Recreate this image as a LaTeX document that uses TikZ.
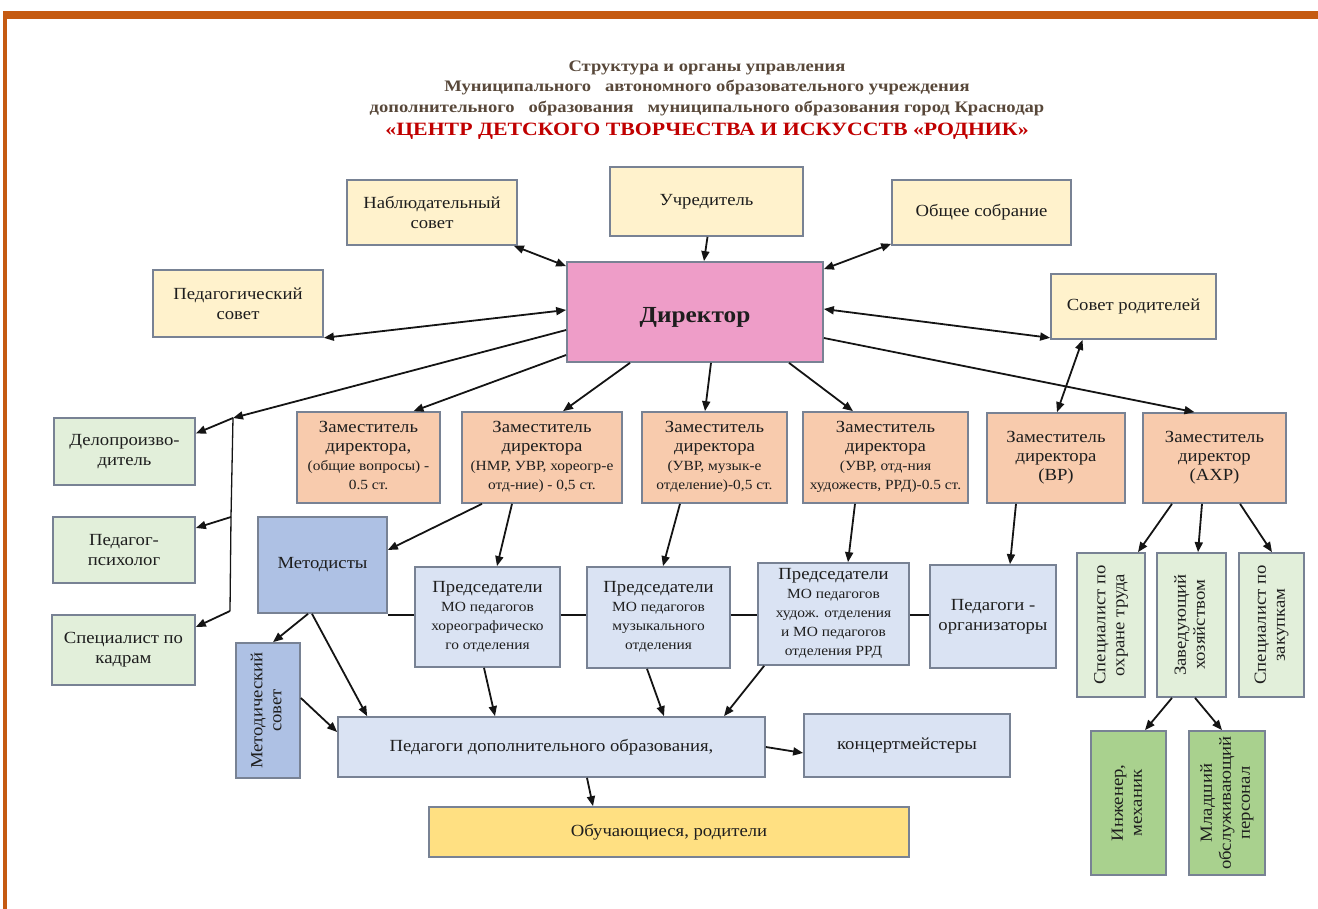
\documentclass[tikz,border=0pt]{standalone}
\usepackage{fontspec}
\usepackage{graphicx}
\setmainfont{Liberation Serif}[FakeStretch=1.1]
\newfontfamily\titlefont{Liberation Serif}[FakeStretch=1.16]
\usetikzlibrary{arrows.meta,calc}
\definecolor{frameor}{RGB}{197,90,17}
\definecolor{bordc}{RGB}{120,130,148}
\definecolor{yel}{RGB}{255,242,204}
\definecolor{pinkd}{RGB}{238,157,200}
\definecolor{peach}{RGB}{248,203,173}
\definecolor{lgreen}{RGB}{226,239,218}
\definecolor{dgreen}{RGB}{169,209,142}
\definecolor{mblue}{RGB}{174,193,228}
\definecolor{lblue}{RGB}{218,227,243}
\definecolor{goldy}{RGB}{255,224,130}
\definecolor{titc}{RGB}{88,72,58}
\definecolor{redt}{RGB}{192,0,0}
\definecolor{txt}{RGB}{30,30,30}
\definecolor{linec}{RGB}{20,20,20}
\newcommand{\ml}[1]{\renewcommand{\arraystretch}{0.95}\begin{tabular}{@{}c@{}}#1\end{tabular}}
\newcommand{\sm}[1]{{\fontsize{14}{16}\selectfont #1}}
\begin{document}
\begin{tikzpicture}[x=1pt,y=-1pt,
  box/.style={draw=bordc, line width=1.7pt, inner sep=2pt, text=txt,
    font=\fontsize{17}{20}\selectfont, align=center},
  arr/.style={draw=linec, line width=1.8pt, -{Triangle[length=10pt,width=8pt]}},
  darr/.style={draw=linec, line width=1.8pt, {Triangle[length=10pt,width=8pt]}-{Triangle[length=10pt,width=8pt]}},
  plainln/.style={draw=linec, line width=1.3pt},
  ttl/.style={text=titc, font=\titlefont\fontsize{16}{19}\bfseries\selectfont, inner sep=0pt}]
\useasboundingbox (0,0) rectangle (1318,909);
% frame
\fill[frameor] (3,11) rectangle (1318,19);
\fill[frameor] (3,11) rectangle (7,909);
% title
\node[ttl] (t1) at (707,68) {Структура и органы управления};
\node[ttl] (t2) at (707,88) {Муниципального\ \ \ автономного образовательного учреждения};
\node[ttl] (t3) at (707,109) {дополнительного\ \ \ образования\ \ \ муниципального образования город Краснодар};
\node[ttl, text=redt, font=\titlefont\fontsize{18.8}{22}\bfseries\selectfont] (t4) at (707,131) {«ЦЕНТР ДЕТСКОГО ТВОРЧЕСТВА И ИСКУССТВ «РОДНИК»};
% top boxes
\node[box, fill=yel, minimum width=170pt, minimum height=65pt] (nab) at (432,212.5) {Наблюдательный\\совет};
\node[box, fill=yel, minimum width=193pt, minimum height=69pt] (uch) at (706.5,201.5) {Учредитель};
\node[box, fill=yel, minimum width=179pt, minimum height=65pt] (obs) at (981.5,212.5) {Общее собрание};
\node[box, fill=yel, minimum width=170pt, minimum height=67pt] (ped) at (238,303.5) {Педагогический\\совет};
\node[box, fill=yel, minimum width=165pt, minimum height=65pt] (sov) at (1133.5,306.5) {Совет родителей};
\node[box, fill=pinkd, minimum width=256pt, minimum height=100pt, text height=21pt, text depth=0pt, font=\fontsize{23}{28}\bfseries\selectfont] (dir) at (695,312) {Директор};
% deputies
\node[box, fill=peach, minimum width=143pt, minimum height=91pt] (d1) at (368.5,457.5) {\ml{Заместитель\\директора,\\\sm{(общие вопросы) -}\\\sm{0.5 ст.}}};
\node[box, fill=peach, minimum width=160pt, minimum height=91pt] (d2) at (542,457.5) {\ml{Заместитель\\директора\\\sm{(НМР, УВР, хореогр-е}\\\sm{отд-ние) - 0,5 ст.}}};
\node[box, fill=peach, minimum width=145pt, minimum height=91pt] (d3) at (714.5,457.5) {\ml{Заместитель\\директора\\\sm{(УВР, музык-е}\\\sm{отделение)-0,5 ст.}}};
\node[box, fill=peach, minimum width=165pt, minimum height=91pt] (d4) at (885.5,457.5) {\ml{Заместитель\\директора\\\sm{(УВР, отд-ния}\\\sm{художеств, РРД)-0.5 ст.}}};
\node[box, fill=peach, minimum width=138pt, minimum height=90pt] (d5) at (1056,458) {\ml{Заместитель\\директора\\(ВР)}};
\node[box, fill=peach, minimum width=143pt, minimum height=90pt] (d6) at (1214.5,458) {\ml{Заместитель\\директор\\(АХР)}};
% left column
\node[box, fill=lgreen, minimum width=141pt, minimum height=67pt] (del) at (124.5,451.5) {Делопроизво-\\дитель};
\node[box, fill=lgreen, minimum width=142pt, minimum height=66pt] (psy) at (124,550) {Педагог-\\психолог};
\node[box, fill=lgreen, minimum width=143pt, minimum height=70pt] (kad) at (123.5,650) {Специалист по\\кадрам};
% horizontal line behind chairs
\coordinate (hl) at (0,615);
% methodists etc
\node[box, fill=mblue, minimum width=129pt, minimum height=96pt] (met) at (322.5,565) {Методисты};
\node[box, fill=mblue, minimum width=64pt, minimum height=135pt] (msov) at (268,710.5) {\rotatebox{90}{\ml{Методический\\совет}}};
\node[box, fill=lblue, minimum width=145pt, minimum height=100pt] (p1) at (487.5,617) {\ml{Председатели\\\sm{МО педагогов}\\\sm{хореографическо}\\\sm{го отделения}}};
\node[box, fill=lblue, minimum width=143pt, minimum height=101pt] (p2) at (658.5,617.5) {\ml{Председатели\\\sm{МО педагогов}\\\sm{музыкального}\\\sm{отделения}}};
\node[box, fill=lblue, minimum width=151pt, minimum height=102pt] (p3) at (833.5,614) {\ml{Председатели\\\sm{МО педагогов}\\\sm{худож. отделения}\\\sm{и МО педагогов}\\\sm{отделения РРД}}};
\node[box, fill=lblue, minimum width=126pt, minimum height=103pt] (porg) at (993,616.5) {Педагоги -\\организаторы};
\node[box, fill=lblue, minimum width=427pt, minimum height=60pt] (pdo) at (551.5,747) {Педагоги дополнительного образования,};
\node[box, fill=lblue, minimum width=206pt, minimum height=63pt] (konc) at (907,745.5) {концертмейстеры};
\node[box, fill=goldy, minimum width=480pt, minimum height=50pt] (obu) at (669,832) {Обучающиеся, родители};
% right bottom
\node[box, fill=lgreen, minimum width=68pt, minimum height=144pt] (s1) at (1111,625) {\rotatebox{90}{\ml{Специалист по\\охране труда}}};
\node[box, fill=lgreen, minimum width=69pt, minimum height=144pt] (s2) at (1191.5,625) {\rotatebox{90}{\ml{Заведующий\\хозяйством}}};
\node[box, fill=lgreen, minimum width=65pt, minimum height=144pt] (s3) at (1271.5,625) {\rotatebox{90}{\ml{Специалист по\\закупкам}}};
\node[box, fill=dgreen, minimum width=75pt, minimum height=144pt] (ing) at (1128.5,803) {\rotatebox{90}{\ml{Инженер,\\механик}}};
\node[box, fill=dgreen, minimum width=76pt, minimum height=144pt] (mlad) at (1227,803) {\rotatebox{90}{\ml{Младший\\обслуживающий\\персонал}}};
% bracket
\coordinate (bt) at (233,418);
\coordinate (bm) at (231,517);
\coordinate (bb) at (230,611);
% connectors
\draw[darr] ($(nab.south east)+(-4,0)$) -- ($(dir.north west)+(0,5)$);
\draw[arr] ($(uch.south)+(1,0)$) -- ($(dir.north)+(9,0)$);
\draw[darr] ($(obs.south west)+(0,-2)$) -- ($(dir.north east)+(0,8)$);
\draw[darr] ($(ped.south east)+(0,0)$) -- ($(dir.west)+(0,-2)$);
\draw[darr] ($(sov.south west)+(0,-2)$) -- ($(dir.east)+(0,-3)$);
\draw[arr] ($(dir.east)+(0,26)$) -- ($(d6.north)+(-20,0)$);
\draw[darr] ($(sov.south)+(-51,0)$) -- ($(d5.north)+(1,0)$);
\draw[arr] ($(dir.west)+(0,18)$) -- (bt);
\draw[arr] ($(dir.west)+(0,43)$) -- ($(d1.north)+(45,0)$);
\draw[arr] ($(dir.south)+(-65,0)$) -- ($(d2.north)+(21,0)$);
\draw[arr] ($(dir.south)+(16,0)$) -- ($(d3.north)+(-9.5,0)$);
\draw[arr] ($(dir.south)+(94,0)$) -- ($(d4.north)+(-32.5,0)$);
\draw[plainln] (bt) -- (bm) -- (bb);
\draw[arr] (bt) -- ($(del.east)+(0,-18)$);
\draw[arr] (bm) -- ($(psy.east)+(0,-22)$);
\draw[arr] (bb) -- ($(kad.east)+(0,-23)$);
\draw[arr] ($(d2.south)+(-60,0)$) -- ($(met.east)+(0,-15)$);
\draw[arr] ($(d2.south)+(-30,0)$) -- ($(p1.north)+(9.5,0)$);
\draw[arr] ($(d3.south)+(-34.5,0)$) -- ($(p2.north)+(4.5,0)$);
\draw[arr] ($(d4.south)+(-30.5,0)$) -- ($(p3.north)+(14.5,0)$);
\draw[arr] ($(d5.south)+(-40,0)$) -- ($(porg.north)+(17,0)$);
\draw[arr] ($(d6.south)+(-42.5,0)$) -- ($(s1.north)+(27,0)$);
\draw[arr] ($(d6.south)+(-12.5,0)$) -- ($(s2.north)+(6.5,0)$);
\draw[arr] ($(d6.south)+(25.5,0)$) -- ($(s3.north)+(0.5,0)$);
\draw[arr] ($(s2.south)+(-19.5,0)$) -- ($(ing.north)+(16.5,0)$);
\draw[arr] ($(s2.south)+(3.5,0)$) -- ($(mlad.north)+(-5,0)$);
\draw[arr] ($(met.south)+(-14.5,0)$) -- ($(msov.north)+(5,0)$);
\draw[arr] ($(met.south)+(-10.5,0)$) -- ($(pdo.north west)+(30,0)$);
\draw[arr] ($(msov.east)+(0,-12.5)$) -- ($(pdo.west)+(0,-15)$);
\draw[arr] ($(p1.south)+(-3.5,0)$) -- ($(pdo.north)+(-56.5,0)$);
\draw[arr] ($(p2.south)+(-11.5,0)$) -- ($(pdo.north)+(112.5,0)$);
\draw[arr] ($(p3.south west)+(7,0)$) -- ($(pdo.north)+(172.5,0)$);
\draw[arr] (pdo.east) -- ($(konc.west)+(0,7.5)$);
\draw[arr] ($(pdo.south)+(35.5,0)$) -- ($(obu.north)+(-76,0)$);
\draw[plainln] (met.east |- hl) -- (p1.west |- hl);
\draw[plainln] (p1.east |- hl) -- (p2.west |- hl);
\draw[plainln] (p2.east |- hl) -- (p3.west |- hl);
\draw[plainln] (p3.east |- hl) -- (porg.west |- hl);
\end{tikzpicture}
\end{document}
